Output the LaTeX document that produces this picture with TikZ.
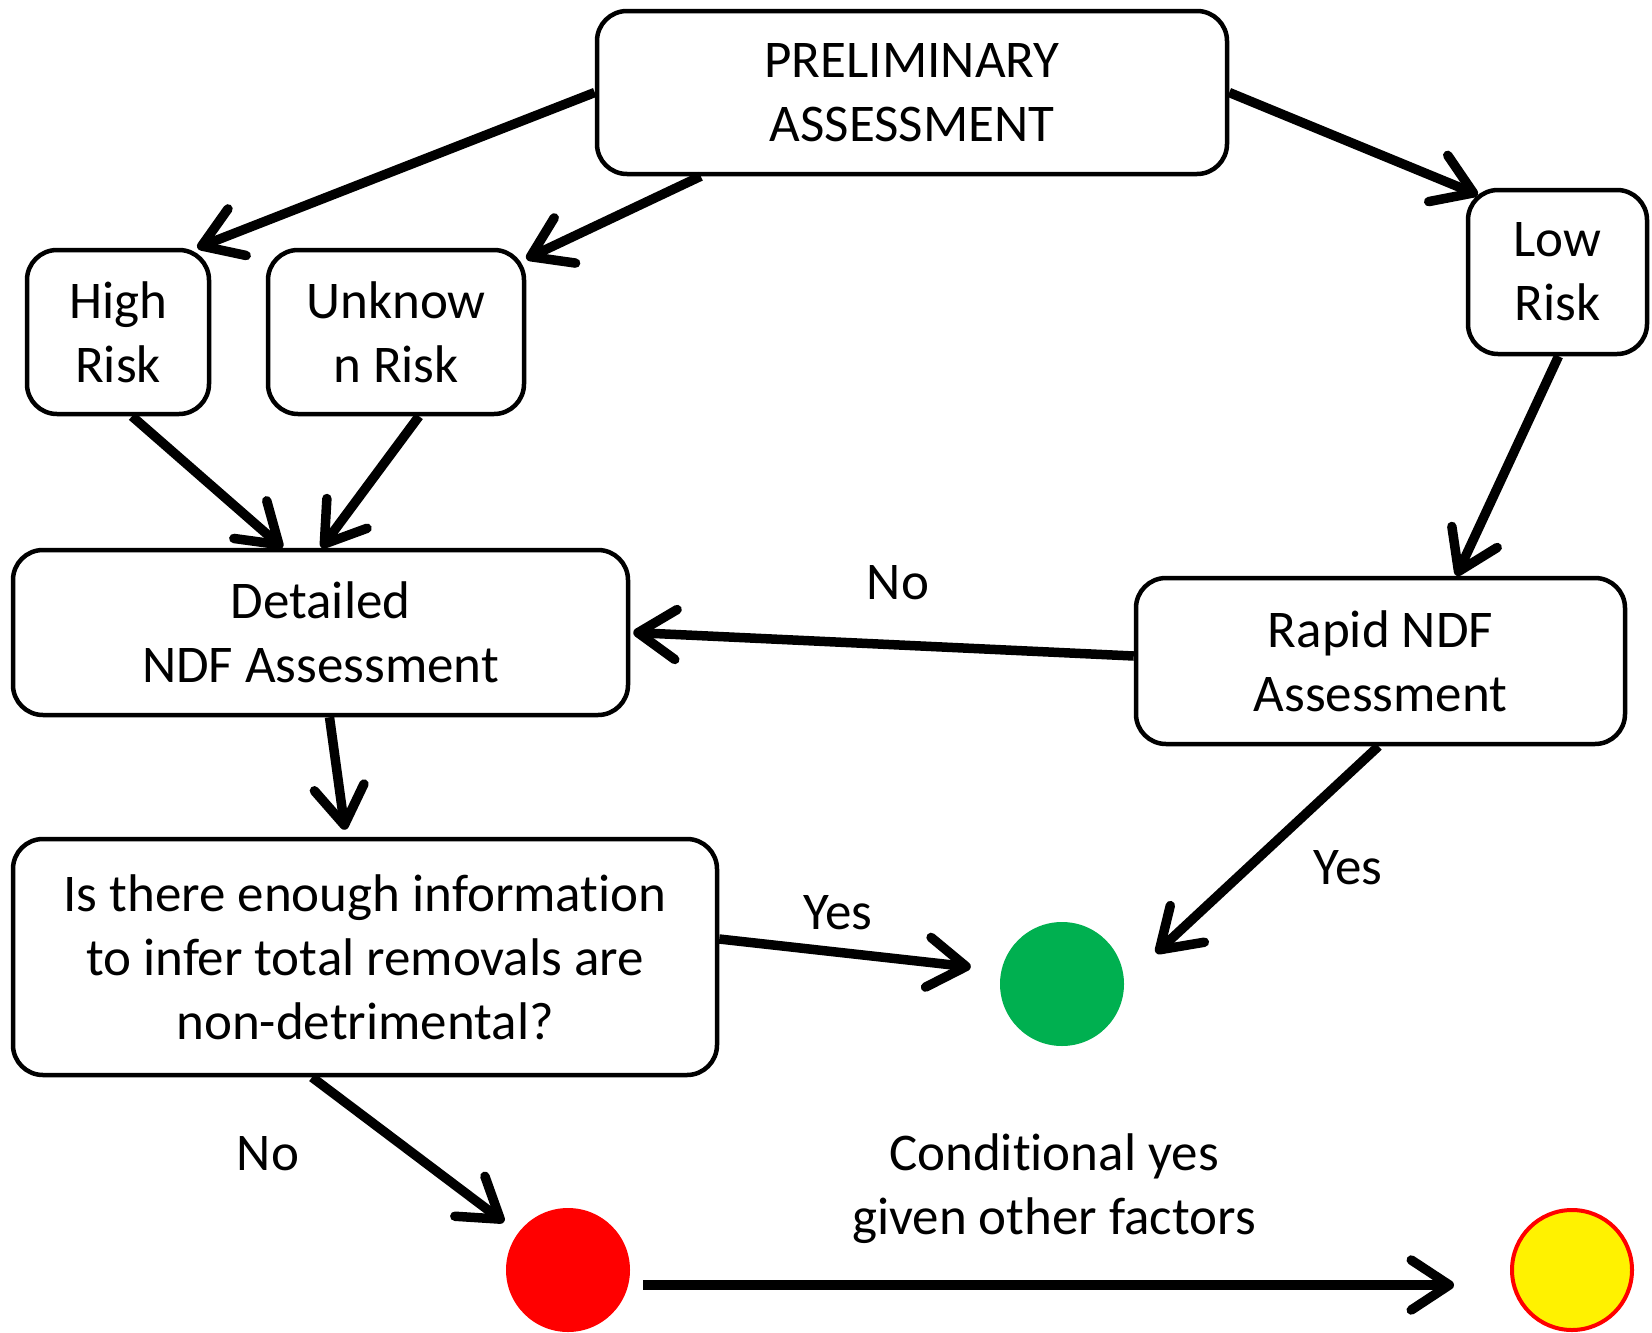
\documentclass[tikz,border=0pt]{standalone}
\usepackage{fontspec}
\setmainfont{Carlito}[Ligatures=NoCommon]
\usetikzlibrary{arrows.meta}
\definecolor{okgreen}{HTML}{00B050}
\begin{document}
\begin{tikzpicture}[x=1pt,y=-1pt,
  box/.style={draw, line width=4.5pt, rounded corners=30pt, align=center, inner sep=0pt, font=\fontsize{53}{64}\selectfont},
  arr/.style={line width=9.5pt, -{Straight Barb[length=38pt,width=50pt,round]}},
  lbl/.style={font=\fontsize{53}{64}\selectfont, align=center, inner sep=0pt},
  dot/.style={circle, inner sep=0pt, minimum size=124pt}]
\useasboundingbox[fill=white] (0,0) rectangle (1652,1333);

\node[box, minimum width=630pt, minimum height=163pt] (prelim) at (912,92.5) {PRELIMINARY\\ASSESSMENT};
\node[box, minimum width=182pt, minimum height=164pt] (high) at (118,332) {High\\Risk};
\node[box, minimum width=256pt, minimum height=164pt] (unk) at (396,332) {Unknow\\n Risk};
\node[box, minimum width=179pt, minimum height=164pt] (low) at (1557.5,272) {Low\\Risk};
\node[box, minimum width=615pt, minimum height=165pt] (det) at (320.5,632.5) {Detailed\\NDF Assessment};
\node[box, minimum width=489pt, minimum height=166pt] (rapid) at (1380.5,661) {Rapid NDF\\Assessment};
\node[box, minimum width=704pt, minimum height=236pt] (q) at (365,957) {Is there enough information\\to infer total removals are\\non-detrimental?};

\node[dot, fill=okgreen] (green) at (1062,984) {};
\node[dot, fill=red] (red) at (568,1270) {};
\node[dot, fill=yellow, draw=red, line width=4pt, minimum size=120pt] (yellow) at (1572,1270) {};

\draw[arr] (prelim.west) -- ([xshift=-14pt]high.north east);
\draw[arr] ([xshift=106pt]prelim.south west) -- ([yshift=-11pt]unk.north east);
\draw[arr] (prelim.east) -- ([shift={(12pt,-7pt)}]low.north west);
\draw[arr] ([xshift=14pt]high.south) -- ([xshift=-38pt]det.north);
\draw[arr] ([xshift=23pt]unk.south) -- ([xshift=1pt]det.north);
\draw[arr] ([xshift=1pt]low.south) -- ([xshift=76pt]rapid.north);
\draw[arr] ([yshift=5pt]rapid.west) -- ([xshift=3pt]det.east);
\draw[arr] ([xshift=9pt]det.south) -- ([shift={(-20pt,7pt)}]q.north);
\draw[arr] ([yshift=18pt]q.east) -- ([shift={(-29pt,17pt)}]green.west);
\draw[arr] ([xshift=-2pt]rapid.south) -- ([shift={(94pt,31pt)}]green.center);
\draw[arr] ([xshift=-53pt]q.south) -- ([shift={(-64pt,48pt)}]red.center);
\draw[arr] ([shift={(75pt,-15pt)}]red.center) -- ([shift={(-118pt,-15pt)}]yellow.center);

\node[lbl] (no1) at (898,583) {No};
\node[lbl] (yes1) at (838,913) {Yes};
\node[lbl] (yes2) at (1348,868) {Yes};
\node[lbl] (no2) at (268,1154) {No};
\node[lbl] (cond) at (1054,1189) {Conditional yes\\given other factors};
\end{tikzpicture}
\end{document}
